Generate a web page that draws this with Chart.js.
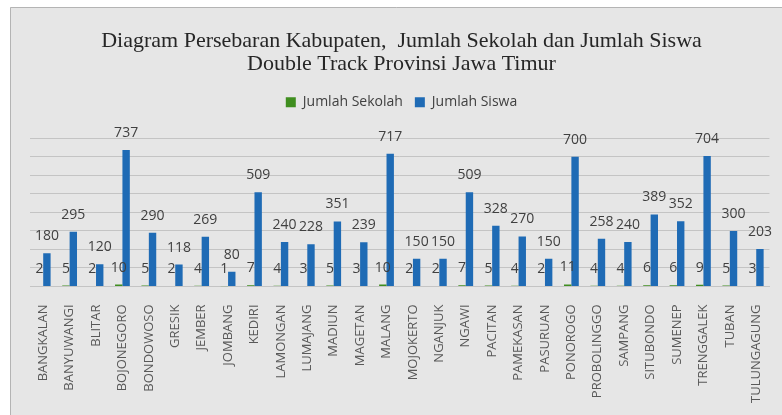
<!DOCTYPE html>
<html lang="id">
  <head>
    <meta charset="UTF-8" />
    <title>Diagram Persebaran Kabupaten</title>
    <script src="https://cdn.jsdelivr.net/npm/chart.js"></script>
    <style>
      html, body { margin: 0; padding: 0; background: #fff; }
      #wrap { width: 782px; height: 415px; }
    </style>
  </head>
  <body>
    <div id="wrap"><canvas id="sebaranChart"></canvas></div>

    <script>
// kabupaten / kota
const kabupaten = [
  'BANGKALAN', 'BANYUWANGI', 'BLITAR', 'BOJONEGORO', 'BONDOWOSO', 'GRESIK',
  'JEMBER', 'JOMBANG', 'KEDIRI', 'LAMONGAN', 'LUMAJANG', 'MADIUN', 'MAGETAN',
  'MALANG', 'MOJOKERTO', 'NGANJUK', 'NGAWI', 'PACITAN', 'PAMEKASAN',
  'PASURUAN', 'PONOROGO', 'PROBOLINGGO', 'SAMPANG', 'SITUBONDO', 'SUMENEP',
  'TRENGGALEK', 'TUBAN', 'TULUNGAGUNG'
];

const jumlahSekolah = [2, 5, 2, 10, 5, 2, 4, 1, 7, 4, 3, 5, 3, 10, 2, 2, 7, 5, 4, 2, 11, 4, 4, 6, 6, 9, 5, 3];
const jumlahSiswa = [180, 295, 120, 737, 290, 118, 269, 80, 509, 240, 228, 351, 239, 717, 150, 150, 509, 328, 270, 150, 700, 258, 240, 389, 352, 704, 300, 203];

const titleLines = [
  'Diagram Persebaran Kabupaten,  Jumlah Sekolah dan Jumlah Siswa',
  'Double Track Provinsi Jawa Timur'
];

// grey frame behind everything (like the excel chart area)
const frameBg = {
  id: 'frameBg',
  beforeDraw(chart) {
    const c = chart.ctx;
    c.save();
    c.fillStyle = '#ffffff';
    c.fillRect(0, 0, chart.width, chart.height);
    c.fillStyle = '#e6e6e6';
    c.fillRect(10, 7, chart.width - 10, chart.height - 7);
    c.strokeStyle = '#b4b4b4';
    c.lineWidth = 1;
    c.beginPath();
    c.moveTo(10.5, chart.height);
    c.lineTo(10.5, 7.5);
    c.lineTo(chart.width, 7.5);
    c.stroke();
    c.restore();
  }
};

// extra room between legend and plot
const legendGap = {
  id: 'legendGap',
  beforeInit(chart) {
    const fit = chart.legend.fit;
    chart.legend.fit = function () {
      fit.bind(chart.legend)();
      this.height += 19;
    };
  }
};

// value labels above each bar
const barValues = {
  id: 'barValues',
  afterDatasetsDraw(chart) {
    const c = chart.ctx;
    c.save();
    c.font = '14px "Open Sans"';
    c.fillStyle = '#404040';
    c.textAlign = 'center';
    c.textBaseline = 'middle';
    chart.data.datasets.forEach((ds, i) => {
      chart.getDatasetMeta(i).data.forEach((bar, j) => {
        c.fillText(ds.data[j], bar.x, bar.y - 17);
      });
    });
    c.restore();
  }
};

new Chart(document.getElementById('sebaranChart'), {
  type: 'bar',
  data: {
    labels: kabupaten,
    datasets: [
      {
        label: 'Jumlah Sekolah',
        data: jumlahSekolah,
        backgroundColor: '#3f8e1f',
        barPercentage: 1,
        categoryPercentage: 0.56
      },
      {
        label: 'Jumlah Siswa',
        data: jumlahSiswa,
        backgroundColor: '#1f6bb5',
        barPercentage: 1,
        categoryPercentage: 0.56
      }
    ]
  },
  options: {
    responsive: true,
    maintainAspectRatio: false,
    animation: false,
    layout: { padding: { left: 30, right: 9, top: 0, bottom: 2 } },
    scales: {
      x: {
        grid: { display: false },
        border: { color: '#c4c4c4' },
        ticks: {
          color: '#595959',
          font: { family: 'Open Sans', size: 13 },
          minRotation: 90,
          maxRotation: 90,
          autoSkip: false,
          padding: 10
        }
      },
      y: {
        min: 0,
        max: 800,
        ticks: { display: false, stepSize: 100 },
        border: { display: false },
        grid: { color: '#c4c4c4', drawTicks: false }
      }
    },
    plugins: {
      title: {
        display: true,
        text: titleLines,
        color: '#262626',
        font: { family: 'Liberation Serif', size: 22, weight: 'normal', lineHeight: 1.03 },
        padding: { top: 30, bottom: 8 }
      },
      legend: {
        position: 'top',
        labels: {
          color: '#404040',
          font: { family: 'Open Sans', size: 14 },
          boxWidth: 10,
          boxHeight: 10,
          padding: 12
        }
      },
      tooltip: { enabled: false }
    }
  },
  plugins: [frameBg, legendGap, barValues]
});
    </script>
  </body>
</html>
